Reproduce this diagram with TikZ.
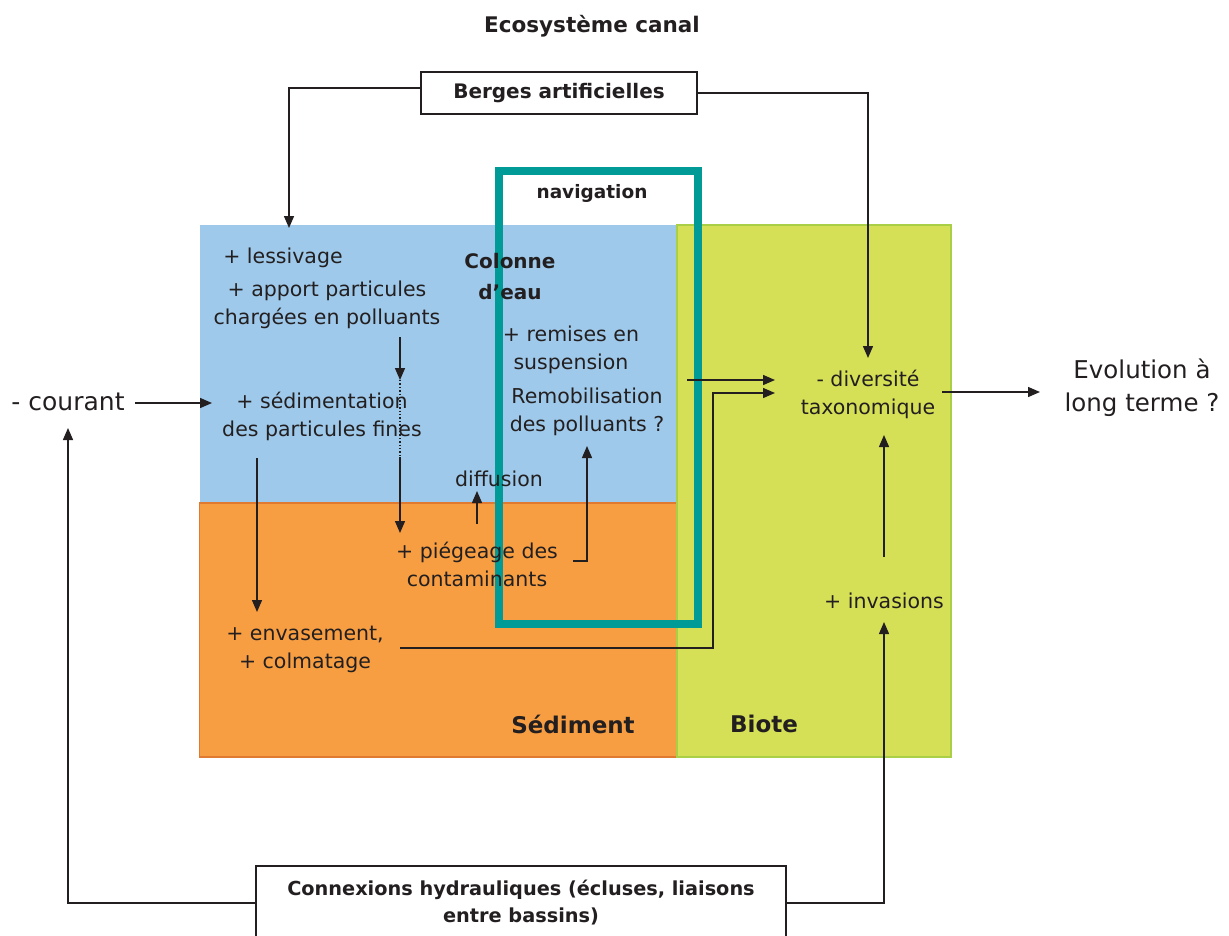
\documentclass[tikz,border=0pt]{standalone}
\usepackage{fontspec}
\setmainfont{DejaVu Sans}
\usepackage{tikz}
\usetikzlibrary{arrows.meta}
\definecolor{eau}{RGB}{158,201,234}
\definecolor{sed}{RGB}{247,158,66}
\definecolor{sedbord}{RGB}{224,122,48}
\definecolor{biote}{RGB}{213,224,87}
\definecolor{biotebord}{RGB}{168,207,69}
\definecolor{nav}{RGB}{0,155,150}
\definecolor{encre}{RGB}{35,31,32}
\tikzstyle{txt}=[inner sep=0pt, align=center, text=encre, font=\fontsize{20.5}{28}\selectfont]
\tikzstyle{gras}=[inner sep=0pt, align=center, text=encre, font=\bfseries\fontsize{20}{31}\selectfont]
\tikzstyle{boite}=[draw=encre, line width=1.5pt, fill=white, inner sep=0pt, align=center, text=encre, font=\bfseries\fontsize{19.3}{27}\selectfont]
\tikzstyle{fl}=[-{Triangle[length=12pt, width=10pt]}, line width=1.4pt, draw=encre]
\tikzstyle{ligne}=[line width=1.4pt, draw=encre]

\begin{document}
\begin{tikzpicture}[x=1pt, y=-1pt]

      \useasboundingbox (0,0) rectangle (1229,935);

      % compartiments
      \fill[eau] (199.5,225) rectangle (677,503);
      \filldraw[fill=sed, draw=sedbord, line width=1.5pt] (199.5,503) rectangle (677,757);
      \filldraw[fill=biote, draw=biotebord, line width=1.5pt] (677,225) rectangle (951,757);
      \draw[nav, line width=8pt] (498.5,170.5) rectangle (697.5,623.5);

      \node[gras, font=\bfseries\fontsize{21.5}{31}\selectfont] (titre) at (592,26) {Ecosystème canal};
      \node[boite, font=\bfseries\fontsize{20}{27}\selectfont, minimum width=276pt, minimum height=42pt] (berges) at (559,93) {Berges artificielles};
      \node[gras, font=\bfseries\fontsize{18.5}{27}\selectfont] (navig) at (592,193) {navigation};
      \node[gras] (colonne) at (510,277) {Colonne\\d’eau};
      \node[gras, font=\bfseries\fontsize{23}{31}\selectfont] (sediment) at (573,724) {Sédiment};
      \node[gras, font=\bfseries\fontsize{23}{31}\selectfont] (biote) at (764,724) {Biote};

      \node[txt] (lessiv) at (283,258) {+ lessivage};
      \node[txt] (apport) at (327,305) {+ apport particules\\chargées en polluants};
      \node[txt, font=\fontsize{25}{30}\selectfont] (courant) at (68,402) {- courant};
      \node[txt] (sedim) at (322,416) {+ sédimentation\\des particules fines};
      \node[txt] (diffus) at (499,479) {diffusion};
      \node[txt] (piegeage) at (477,564) {+ piégeage des\\contaminants};
      \node[txt] (remises) at (571,350) {+ remises en\\suspension};
      \node[txt] (remob) at (587,412) {Remobilisation\\des polluants ?};
      \node[txt] (envas) at (305,649) {+ envasement,\\+ colmatage};
      \node[txt] (divers) at (868,394) {- diversité\\taxonomique};
      \node[txt] (invas) at (884,601) {+ invasions};
      \node[txt, font=\fontsize{24.5}{33}\selectfont] (evol) at (1142,388) {Evolution à\\long terme ?};
      \node[boite, minimum width=530pt, minimum height=74pt] (connex) at (521,903) {Connexions hydrauliques (écluses, liaisons\\entre bassins)};

      \coordinate (b1) at (289,88);
      \coordinate (b2) at (289,228);
      \coordinate (b3) at (868,93);
      \coordinate (b4) at (868,358);
      \coordinate (a1) at (400,337);
      \coordinate (a2) at (400,380);
      \coordinate (a3) at (400,457);
      \coordinate (a4) at (400,533);
      \coordinate (s1) at (257,458);
      \coordinate (s2) at (257,612);
      \coordinate (c1) at (135,403);
      \coordinate (c2) at (212,403);
      \coordinate (d1) at (477,524);
      \coordinate (d2) at (477,491);
      \coordinate (p1) at (573,561);
      \coordinate (p2) at (587,446);
      \coordinate (r1) at (687,380);
      \coordinate (r2) at (775,380);
      \coordinate (e1) at (400,648);
      \coordinate (e2) at (713,648);
      \coordinate (e3) at (775,393);
      \coordinate (v1) at (942,392);
      \coordinate (v2) at (1040,392);
      \coordinate (i1) at (884,557);
      \coordinate (i2) at (884,435);
      \coordinate (h1) at (68,428);
      \coordinate (h2) at (884,622);

      \draw[fl] (berges.west |- b1) -| (b2);
      \draw[fl] (berges.east |- b3) -| (b4);
      \draw[fl] (a1) -- (a2);
      \draw[ligne, dotted] (a2) -- (a3);
      \draw[fl] (a3) -- (a4);
      \draw[fl] (s1) -- (s2);
      \draw[fl] (c1) -- (c2);
      \draw[fl] (d1) -- (d2);
      \draw[fl] (p1) -| (p2);
      \draw[fl] (r1) -- (r2);
      \draw[fl] (e1) -- (e2) |- (e3);
      \draw[fl] (v1) -- (v2);
      \draw[fl] (i1) -- (i2);
      \draw[fl] (connex.west) -| (h1);
      \draw[fl] (connex.east) -| (h2);

    \end{tikzpicture}
\end{document}
